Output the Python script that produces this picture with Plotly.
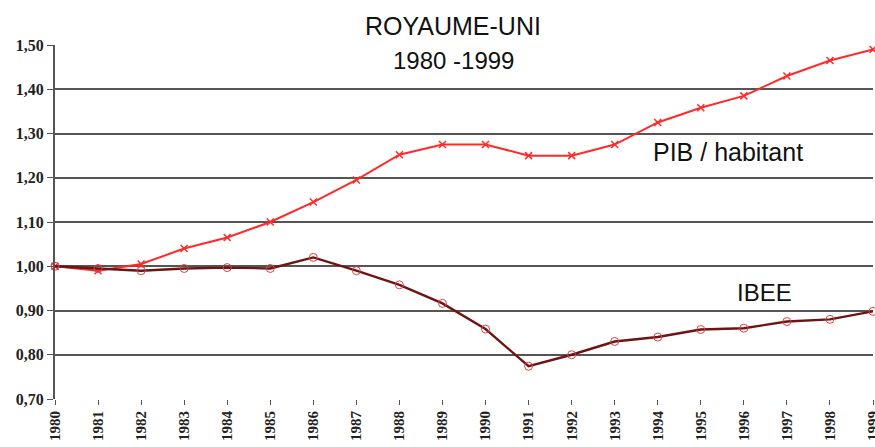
import plotly.graph_objects as go

years = list(range(1980, 2000))
pib_habitant = [1.00, 0.99, 1.005, 1.04, 1.065, 1.10, 1.145, 1.195, 1.252, 1.275,
                1.275, 1.25, 1.25, 1.275, 1.325, 1.358, 1.385, 1.43, 1.465, 1.49]
ibee = [1.00, 0.995, 0.99, 0.995, 0.997, 0.995, 1.02, 0.99, 0.958, 0.916,
        0.858, 0.774, 0.80, 0.83, 0.84, 0.857, 0.86, 0.875, 0.88, 0.898]
y_ticks = [0.70, 0.80, 0.90, 1.00, 1.10, 1.20, 1.30, 1.40, 1.50]

fig = go.Figure()
fig.add_trace(go.Scatter(
    x=years, y=pib_habitant, mode="lines+markers", name="PIB / habitant",
    line=dict(color="#ff2a2a", width=2),
    marker=dict(symbol="x-thin-open", size=7, color="#ff2a2a", line=dict(color="#ff2a2a", width=1.5)),
    cliponaxis=False,
))
fig.add_trace(go.Scatter(
    x=years, y=ibee, mode="lines+markers", name="IBEE",
    line=dict(color="#6e1414", width=2.4),
    marker=dict(symbol="circle-open", size=8, color="#e04040", line=dict(color="#e04040", width=1)),
    cliponaxis=False,
))

sans = "Liberation Sans, Arial, sans-serif"
fig.update_layout(
    width=875, height=447,
    margin=dict(l=55, r=2, t=45, b=48),
    paper_bgcolor="white", plot_bgcolor="white",
    showlegend=False,
    separators=",.",
    xaxis=dict(
        range=[1980, 1999], tickmode="array", tickvals=years,
        ticktext=[str(y) for y in years], tickangle=-90, automargin=False,
        ticklabeloverflow="allow",
        tickfont=dict(family="Liberation Serif, serif", size=15, color="#222", weight="bold"),
        showgrid=False, zeroline=False, ticks="outside", ticklen=5,
        tickcolor="#555", showline=False,
    ),
    yaxis=dict(
        range=[0.70, 1.50], tickmode="array", tickvals=y_ticks, automargin=False,
        tickformat=".2f",
        tickfont=dict(family="Liberation Serif, serif", size=16, color="#222", weight="bold"),
        showgrid=True, gridcolor="#555", gridwidth=1.5, zeroline=False,
        ticks="outside", ticklen=6, tickcolor="#555",
        showline=True, linecolor="#555", linewidth=2,
    ),
    annotations=[
        dict(text="ROYAUME-UNI", x=0.4866, y=1.0, xref="paper", yref="paper", yanchor="bottom",
             showarrow=False, yshift=3, font=dict(family=sans, size=25, color="#111")),
        dict(text="1980 -1999", x=0.4866, y=1.0, xref="paper", yref="paper", yanchor="top",
             showarrow=False, yshift=0, font=dict(family=sans, size=24, color="#111")),
        dict(text="PIB / habitant", x=1995.63, y=1.258, xref="x", yref="y",
             showarrow=False, font=dict(family=sans, size=25, color="#111")),
        dict(text="IBEE", x=1996.48, y=0.941, xref="x", yref="y",
             showarrow=False, font=dict(family=sans, size=24, color="#111")),
    ],
)
fig.write_html("out.html", config={"displayModeBar": False},
               post_script="document.body.style.margin='0';document.body.style.overflow='hidden';")
